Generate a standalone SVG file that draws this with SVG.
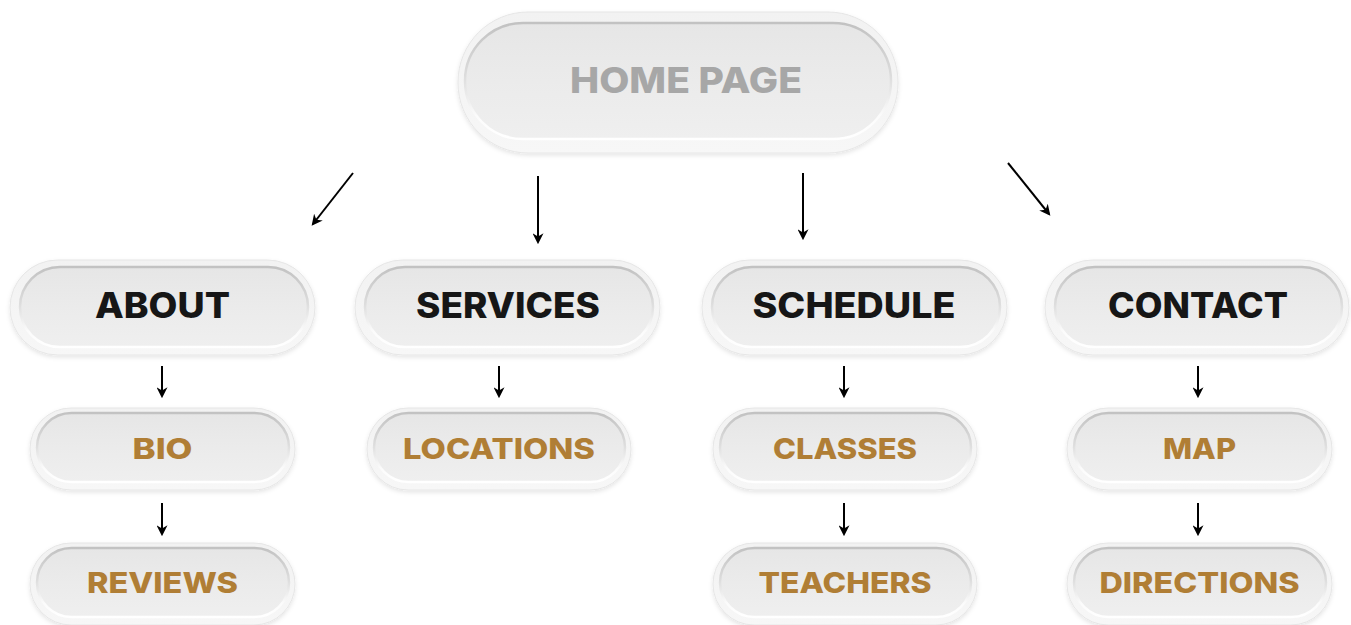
<svg xmlns="http://www.w3.org/2000/svg" width="1351" height="625" viewBox="0 0 1351 625">
  <defs>
    <linearGradient id="innerFill" x1="0" y1="0" x2="0" y2="1">
      <stop offset="0" stop-color="#e6e6e6"/>
      <stop offset="0.5" stop-color="#ebebeb"/>
      <stop offset="1" stop-color="#efefef"/>
    </linearGradient>
    <linearGradient id="innerStroke" x1="0" y1="0" x2="0" y2="1">
      <stop offset="0" stop-color="#c2c2c2"/>
      <stop offset="0.45" stop-color="#dcdcdc"/>
      <stop offset="0.8" stop-color="#fbfbfb"/>
      <stop offset="1" stop-color="#ffffff"/>
    </linearGradient>
    <linearGradient id="outerFill" x1="0" y1="0" x2="0" y2="1">
      <stop offset="0" stop-color="#f2f2f2"/>
      <stop offset="1" stop-color="#f7f7f7"/>
    </linearGradient>
    <filter id="soft" x="-10%" y="-20%" width="120%" height="150%">
      <feDropShadow dx="0" dy="2" stdDeviation="2" flood-color="#000" flood-opacity="0.1"/>
    </filter>
    <marker id="ah" viewBox="0 0 10 10" refX="8" refY="5" markerWidth="5.5" markerHeight="5.5" orient="auto" markerUnits="strokeWidth">
      <path d="M0,0 L10,5 L0,10 L3,5 z" fill="#000"/>
    </marker>
  </defs>
  <style>
    .outer { fill: url(#outerFill); stroke: #e6e6e6; stroke-width: 1; filter: url(#soft); }
    .inner { fill: url(#innerFill); stroke: url(#innerStroke); stroke-width: 2.5; }
    .t { font-family: "Inter", "Open Sans", "Liberation Sans", sans-serif; font-weight: 800; text-anchor: middle; }
    .home { fill: #a7a7a7; font-size: 35px; }
    .l1 { fill: #161616; font-size: 35px; }
    .l2 { fill: #b07e35; font-size: 29px; }
    .conn line { stroke: #000; stroke-width: 2; marker-end: url(#ah); }
  </style>
  <rect width="1351" height="625" fill="#ffffff"/>

  <g id="home">
    <rect class="outer" x="458" y="12" width="440" height="141" rx="70"/>
    <rect class="inner" x="465" y="23" width="426" height="116" rx="58"/>
    <text class="t home" x="686" y="93" textLength="232" lengthAdjust="spacingAndGlyphs">HOME PAGE</text>
  </g>

  <g id="about">
    <rect class="outer" x="10" y="260" width="305" height="95" rx="47.5"/>
    <rect class="inner" x="20" y="267" width="288" height="80" rx="40"/>
    <text class="t l1" x="162.5" y="318" textLength="135" lengthAdjust="spacingAndGlyphs">ABOUT</text>
  </g>
  <g id="services">
    <rect class="outer" x="355" y="260" width="305" height="95" rx="47.5"/>
    <rect class="inner" x="365" y="267" width="288" height="80" rx="40"/>
    <text class="t l1" x="508" y="318" textLength="184" lengthAdjust="spacingAndGlyphs">SERVICES</text>
  </g>
  <g id="schedule">
    <rect class="outer" x="702" y="260" width="305" height="95" rx="47.5"/>
    <rect class="inner" x="712" y="267" width="288" height="80" rx="40"/>
    <text class="t l1" x="854" y="318" textLength="203" lengthAdjust="spacingAndGlyphs">SCHEDULE</text>
  </g>
  <g id="contact">
    <rect class="outer" x="1045" y="260" width="304" height="95" rx="47.5"/>
    <rect class="inner" x="1055" y="267" width="287" height="80" rx="40"/>
    <text class="t l1" x="1198" y="318" textLength="180" lengthAdjust="spacingAndGlyphs">CONTACT</text>
  </g>

  <g id="bio">
    <rect class="outer" x="30" y="408" width="265" height="82" rx="41"/>
    <rect class="inner" x="37" y="413" width="252" height="69" rx="34.5"/>
    <text class="t l2" x="162.5" y="459" textLength="60" lengthAdjust="spacingAndGlyphs">BIO</text>
  </g>
  <g id="locations">
    <rect class="outer" x="367" y="408" width="264" height="82" rx="41"/>
    <rect class="inner" x="374" y="413" width="251" height="69" rx="34.5"/>
    <text class="t l2" x="499" y="459" textLength="192" lengthAdjust="spacingAndGlyphs">LOCATIONS</text>
  </g>
  <g id="classes">
    <rect class="outer" x="713" y="408" width="264" height="82" rx="41"/>
    <rect class="inner" x="720" y="413" width="251" height="69" rx="34.5"/>
    <text class="t l2" x="845" y="459" textLength="144" lengthAdjust="spacingAndGlyphs">CLASSES</text>
  </g>
  <g id="map">
    <rect class="outer" x="1067" y="408" width="265" height="82" rx="41"/>
    <rect class="inner" x="1074" y="413" width="252" height="69" rx="34.5"/>
    <text class="t l2" x="1199.5" y="459" textLength="73" lengthAdjust="spacingAndGlyphs">MAP</text>
  </g>

  <g id="reviews">
    <rect class="outer" x="30" y="543" width="265" height="82" rx="41"/>
    <rect class="inner" x="37" y="548" width="252" height="69" rx="34.5"/>
    <text class="t l2" x="162.5" y="593" textLength="151" lengthAdjust="spacingAndGlyphs">REVIEWS</text>
  </g>
  <g id="teachers">
    <rect class="outer" x="713" y="543" width="264" height="82" rx="41"/>
    <rect class="inner" x="720" y="548" width="251" height="69" rx="34.5"/>
    <text class="t l2" x="845" y="593" textLength="173" lengthAdjust="spacingAndGlyphs">TEACHERS</text>
  </g>
  <g id="directions">
    <rect class="outer" x="1067" y="543" width="265" height="82" rx="41"/>
    <rect class="inner" x="1074" y="548" width="252" height="69" rx="34.5"/>
    <text class="t l2" x="1199.5" y="593" textLength="200" lengthAdjust="spacingAndGlyphs">DIRECTIONS</text>
  </g>

  <g id="connectors" class="conn">
    <line x1="353" y1="173" x2="313" y2="224"/>
    <line x1="538" y1="176" x2="538" y2="242"/>
    <line x1="803" y1="173" x2="803" y2="238"/>
    <line x1="1008" y1="163" x2="1049" y2="214"/>
    <line x1="162" y1="366" x2="162" y2="396"/>
    <line x1="499" y1="366" x2="499" y2="396"/>
    <line x1="844" y1="366" x2="844" y2="396"/>
    <line x1="1198" y1="366" x2="1198" y2="396"/>
    <line x1="162" y1="503" x2="162" y2="534"/>
    <line x1="844" y1="503" x2="844" y2="534"/>
    <line x1="1198" y1="503" x2="1198" y2="534"/>
  </g>
</svg>
